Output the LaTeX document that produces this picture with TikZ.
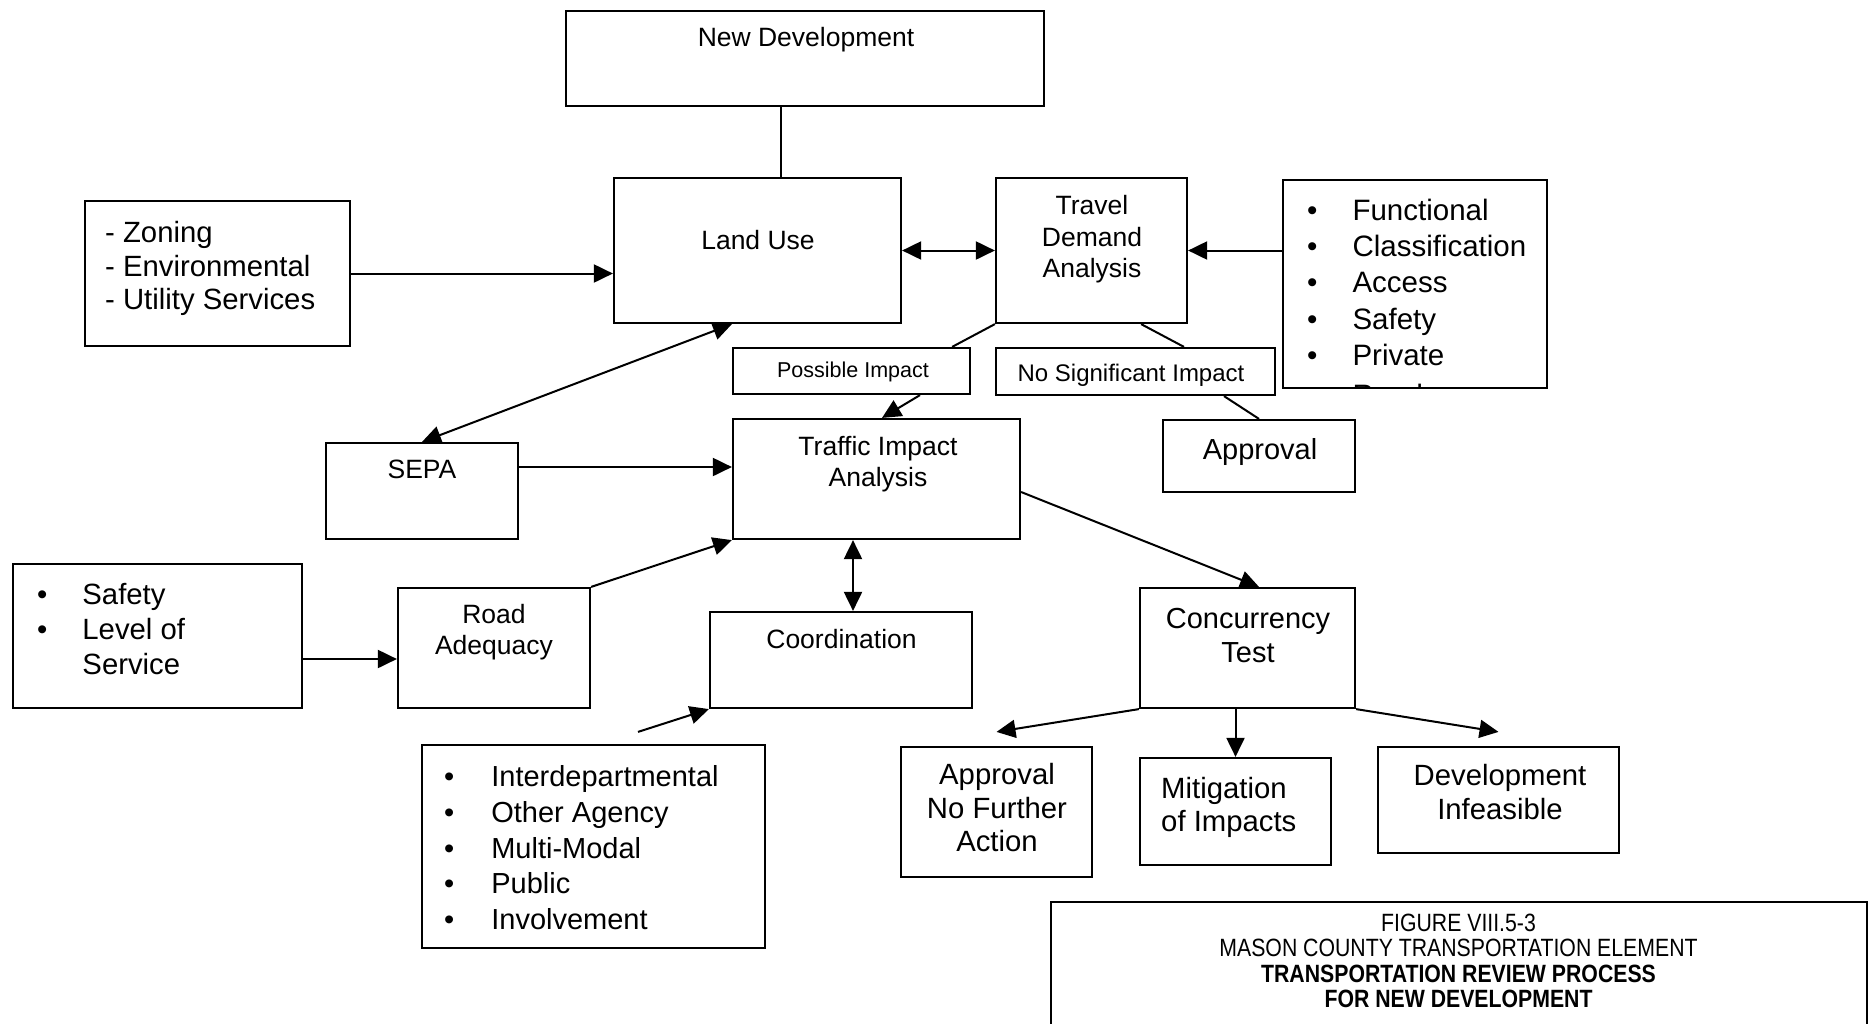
\documentclass[tikz,border=0pt]{standalone}
\usepackage{fontspec}
\setmainfont{Liberation Sans}
\newfontfamily\narrowfont[FakeStretch=0.85]{Liberation Sans}
\usetikzlibrary{arrows.meta}
\newcommand\stackc[1]{\begin{tabular}[t]{@{}c@{}}#1\end{tabular}}
\newcommand\stackl[1]{\begin{tabular}[t]{@{}l@{}}#1\end{tabular}}
\newcommand\dotlist[2]{\begin{tabular}[t]{@{}l@{\hspace{#1}}l@{}}#2\end{tabular}}
\begin{document}
\begin{tikzpicture}[x=1pt,y=-1pt,
  box/.style={draw, line width=2.2pt, inner sep=0pt},
  txt/.style={inner sep=0pt, anchor=base},
  ltxt/.style={inner sep=0pt, anchor=base west},
  link/.style={line width=2pt},
  arr/.style={link, -{Triangle[length=19pt,width=18pt]}},
  darr/.style={link, {Triangle[length=19pt,width=18pt]}-{Triangle[length=19pt,width=18pt]}}]
\fill[white] (0,0) rectangle (1873,1023);
\clip (0,0) rectangle (1873,1023);
% boxes
\node[box, minimum width=478pt, minimum height=95pt] (nd) at (805,58.5) {};
\node[box, minimum width=287pt, minimum height=145pt] (lu) at (757.5,250.5) {};
\node[box, minimum width=191pt, minimum height=145pt] (td) at (1091.5,250.5) {};
\node[box, minimum width=264pt, minimum height=208pt] (fn) at (1415,284) {};
\node[box, minimum width=265pt, minimum height=145pt] (zn) at (217.5,273.5) {};
\node[box, minimum width=237pt, minimum height=46pt] (pi) at (851.5,371) {};
\node[box, minimum width=279pt, minimum height=47pt] (ns) at (1135.5,371.5) {};
\node[box, minimum width=192pt, minimum height=96pt] (sepa) at (422,491) {};
\node[box, minimum width=287pt, minimum height=120pt] (tia) at (876.5,479) {};
\node[box, minimum width=192pt, minimum height=72pt] (ap) at (1259,456) {};
\node[box, minimum width=289pt, minimum height=144pt] (sf) at (157.5,636) {};
\node[box, minimum width=192pt, minimum height=120pt] (ra) at (494,648) {};
\node[box, minimum width=262pt, minimum height=96pt] (co) at (841,660) {};
\node[box, minimum width=215pt, minimum height=120pt] (cc) at (1247.5,648) {};
\node[box, minimum width=343pt, minimum height=203pt] (ib) at (593.5,846.5) {};
\node[box, minimum width=191pt, minimum height=130pt] (an) at (996.5,812) {};
\node[box, minimum width=191pt, minimum height=107pt] (mi) at (1235.5,811.5) {};
\node[box, minimum width=241pt, minimum height=106pt] (di) at (1498.5,800) {};
\node[box, minimum width=816pt, minimum height=133pt] (fg) at (1459,968.5) {};
% texts
\node[txt, font=\fontsize{26.5}{31.5}\selectfont] (ndt) at (806,46.5) {New Development};
\node[txt, font=\fontsize{26.5}{31.5}\selectfont] (lut) at (758,249.5) {Land Use};
\node[txt, font=\fontsize{26.5}{31.5}\selectfont] (tdt) at (1092,214.5) {\stackc{Travel\\Demand\\Analysis}};
\begin{scope}
\clip ([shift={(1.1pt,1.1pt)}]fn.south west) rectangle (fn.north east);
\node[ltxt, font=\fontsize{29.5}{36.2}\selectfont] (fnt) at (1307,220.5)
  {\dotlist{35pt}{\textbullet & Functional\\ \textbullet & Classification\\ \textbullet & Access\\
   \textbullet & Safety\\ \textbullet & Private\\[4pt] & Road}};
\end{scope}
\node[ltxt, font=\fontsize{29.3}{33.5}\selectfont] (znt) at (105,242.5)
  {\stackl{- Zoning\\- Environmental\\- Utility Services}};
\node[txt, font=\fontsize{21.5}{25}\selectfont] (pit) at (853,377.7) {Possible Impact};
\node[txt, font=\fontsize{24}{28}\selectfont] (nst) at (1131,381.6) {No Significant Impact};
\node[txt, font=\fontsize{26.5}{31}\selectfont] (sepat) at (422,478.5) {SEPA};
\node[txt, font=\fontsize{26.5}{31}\selectfont] (tiat) at (878,455.5) {\stackc{Traffic Impact\\Analysis}};
\node[txt, font=\fontsize{29}{34}\selectfont] (apt) at (1260,459) {Approval};
\node[ltxt, font=\fontsize{29.3}{35}\selectfont] (sft) at (37,604.5)
  {\dotlist{35pt}{\textbullet & Safety\\ \textbullet & Level of\\ & Service}};
\node[txt, font=\fontsize{26.5}{31}\selectfont] (rat) at (494,623.5) {\stackc{Road\\Adequacy}};
\node[txt, font=\fontsize{26.5}{31}\selectfont] (cot) at (841.5,648.5) {Coordination};
\node[txt, font=\fontsize{29}{34}\selectfont] (cct) at (1248,628.5) {\stackc{Concurrency\\Test}};
\node[ltxt, font=\fontsize{29}{35.75}\selectfont] (ibt) at (444,786.5)
  {\dotlist{37pt}{\textbullet & Interdepartmental\\ \textbullet & Other Agency\\ \textbullet & Multi-Modal\\
   \textbullet & Public\\ \textbullet & Involvement}};
\node[txt, font=\fontsize{29.3}{33.5}\selectfont] (ant) at (997,784.5) {\stackc{Approval\\No Further\\Action}};
\node[ltxt, font=\fontsize{29.3}{33}\selectfont] (mit) at (1161,798.5) {\stackl{Mitigation\\of Impacts}};
\node[txt, font=\fontsize{29.3}{34}\selectfont] (dit) at (1500,785.5) {\stackc{Development\\Infeasible}};
\node[txt, font=\narrowfont\fontsize{25}{25.3}\selectfont] (fgt) at (1458.5,931.5)
  {\stackc{FIGURE VIII.5-3\\MASON COUNTY TRANSPORTATION ELEMENT\\
   \textbf{TRANSPORTATION REVIEW PROCESS}\\\textbf{FOR NEW DEVELOPMENT}}};
% connectors
\coordinate (ibs) at ([xshift=44.5pt,yshift=12pt]ib.north);
\draw[link] ([xshift=23.5pt]lu.north) -- ([xshift=23.5pt]lu.north |- nd.south);
\draw[arr] (zn.east) -- (zn.east -| lu.west);
\draw[darr] (lu.east) -- (td.west);
\draw[arr] (td.east -| fn.west) -- (td.east);
\draw[link] (td.south west) -- ([xshift=-19pt]pi.north east);
\draw[link] ([xshift=-47pt]td.south east) -- ([xshift=48.5pt]ns.north);
\draw[arr] ([xshift=68.5pt]pi.south) -- ([xshift=5.5pt]tia.north);
\draw[link] ([xshift=88.5pt]ns.south) -- (ap.north);
\draw[darr] ([xshift=119pt]lu.south west) -- (sepa.north);
\draw[arr] ([yshift=24pt]sepa.east) -- ([yshift=24pt]sepa.east -| tia.west);
\draw[arr] (ra.north east) -- (tia.south west);
\draw[arr] ([yshift=-11pt]ra.west -| sf.east) -- ([yshift=-11pt]ra.west);
\draw[darr] ([xshift=12pt]co.north) -- ([xshift=12pt]co.north |- tia.south);
\draw[arr] ([yshift=-13pt]tia.east) -- ([xshift=11.5pt]cc.north);
\draw[arr] (ibs) -- (co.south west);
\draw[arr] (cc.south west) -- ([yshift=14pt]an.north);
\draw[arr] (mi.north |- cc.south) -- (mi.north);
\draw[arr] (cc.south east) -- ([yshift=14pt]di.north);
\end{tikzpicture}
\end{document}
